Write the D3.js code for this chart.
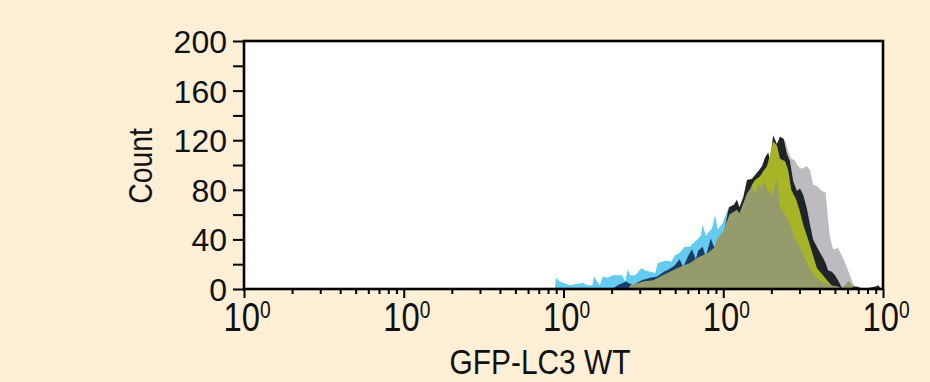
<!DOCTYPE html>
<html>
<head>
<meta charset="utf-8">
<script src="https://cdn.jsdelivr.net/npm/d3@7"></script>
<style>
  html, body { margin: 0; padding: 0; background: #FEEFD6; }
  svg { display: block; }
</style>
</head>
<body>
<svg id="chart" width="930" height="382"></svg>
<script>
// ---- DATA (x = acquisition channel, 1024 channels over 4 log decades; y = count) ----
const xTickLabels = ["10", "10", "10", "10", "10"];
const xTickExp = ["0", "0", "0", "0", "0"];
const yMajorTicks = [0, 40, 80, 120, 160, 200];
const yMinorTicks = [20, 60, 100, 140, 180];
const xTitle = "GFP-LC3 WT";
const yTitle = "Count";

const greySeries = [
  [843,0],[856,118],[867,120],[872,111],[877,105],[882,104],[888,99],[894,97],[902,99],[907,96],
  [912,84],[918,83],[926,79],[932,78],[935,61],[939,42],[944,32],[952,33],[959,26],[968,15],
  [974,7],[979,1],[983,0]
];
const blueSeries = [
  [498,0],[500,9],[506,6],[522,3],[543,5],[550,3],[558,3],[561,10],[570,3],[575,10],[583,9],
  [591,11],[606,11],[611,6],[615,16],[619,11],[627,11],[637,17],[643,15],[651,14],[659,13],
  [663,21],[677,23],[685,22],[690,27],[698,29],[706,34],[714,34],[726,40],[732,43],[735,52],
  [740,43],[750,49],[755,60],[759,48],[767,53],[775,64],[783,62],[794,55],[805,0]
];
const blackSeries = [
  [764,0],[765,35],[777,66],[785,68],[790,72],[794,66],[800,74],[806,88],[814,89],[819,92],
  [824,95],[830,99],[835,106],[840,110],[843,104],[848,124],[854,117],[859,123],[865,121],
  [870,109],[875,103],[880,87],[886,79],[891,81],[896,76],[902,65],[907,52],[912,40],[920,32],
  [928,25],[932,21],[936,15],[942,14],[947,11],[952,7],[957,2],[959,0],[964,3],[969,6],[974,2],
  [982,2],[993,0],[1012,2],[1017,3],[1020,0]
];
const navySeries = [
  [590,0],[599,3],[612,6],[623,3],[637,7],[651,9],[662,10],[673,14],[681,16],[690,19],[698,24],
  [704,18],[712,27],[718,32],[724,24],[728,31],[735,34],[740,26],[748,41],[753,34],[759,36],
  [764,40],[772,45],[777,57],[781,58],[788,0]
];
const yellowSeries = [
  [794,0],[795,55],[808,75],[814,84],[819,88],[827,91],[832,95],[838,99],[843,108],[848,119],
  [854,116],[859,105],[867,103],[872,96],[877,80],[885,72],[891,62],[896,52],[904,40],[912,27],
  [918,17],[928,11],[936,6],[947,0]
];
const oliveSeries = [
  [616,0],[619,3],[640,6],[656,7],[671,11],[687,15],[704,19],[715,21],[726,25],[743,29],[753,33],
  [759,41],[767,46],[778,60],[790,64],[794,61],[800,69],[806,77],[814,83],[819,76],[824,85],
  [830,81],[835,87],[840,77],[843,81],[846,74],[854,89],[859,66],[867,60],[875,52],[883,41],
  [888,36],[896,29],[904,19],[915,10],[926,6],[939,3],[952,2],[959,0],[964,3],[969,6],[974,3],[977,0]
];

// ---- LAYOUT ----
const plot = { left: 244, right: 883, top: 41, bottom: 289 };
const svg = d3.select("#chart");
svg.append("rect").attr("width", 930).attr("height", 382).attr("fill", "#FEEFD6");

const xLog = d3.scaleLog().domain([1, 1e4]).range([plot.left, plot.right]);
const xCh = d3.scaleLinear().domain([0, 1024]).range([plot.left, plot.right]);
const y = d3.scaleLinear().domain([0, 200]).range([plot.bottom, plot.top]);

svg.append("rect")
  .attr("x", plot.left).attr("y", plot.top)
  .attr("width", plot.right - plot.left).attr("height", plot.bottom - plot.top)
  .attr("fill", "#ffffff");

svg.append("clipPath").attr("id", "clip").append("rect")
  .attr("x", plot.left).attr("y", plot.top)
  .attr("width", plot.right - plot.left).attr("height", plot.bottom - plot.top);

const area = d3.area()
  .x(d => xCh(d[0]))
  .y0(y(0))
  .y1(d => y(d[1]))
  .curve(d3.curveLinear);

const layers = [
  { data: greySeries, fill: "#BDBAC0" },
  { data: blueSeries, fill: "#66CBF1" },
  { data: blackSeries, fill: "#1E2427" },
  { data: navySeries, fill: "#1A3F66" },
  { data: yellowSeries, fill: "#A7B426" },
  { data: oliveSeries, fill: "#969B6B" }
];
const g = svg.append("g").attr("clip-path", "url(#clip)");
g.selectAll("path").data(layers).join("path")
  .attr("d", d => area(d.data))
  .attr("fill", d => d.fill);

// ---- FRAME ----
svg.append("rect")
  .attr("x", plot.left).attr("y", plot.top)
  .attr("width", plot.right - plot.left).attr("height", plot.bottom - plot.top)
  .attr("fill", "none").attr("stroke", "#000").attr("stroke-width", 2.6);

// ---- X AXIS ----
const decades = [1, 10, 100, 1000, 10000];
const minor = xLog.ticks().filter(v => !decades.includes(v));
const xMinor = svg.append("g").attr("transform", `translate(0,${plot.bottom})`)
  .call(d3.axisBottom(xLog).tickValues(minor).tickSize(5).tickFormat(""));
const xMajor = svg.append("g").attr("transform", `translate(0,${plot.bottom})`)
  .call(d3.axisBottom(xLog).tickValues(decades).tickSize(9).tickFormat(""));
[xMinor, xMajor].forEach(a => {
  a.select(".domain").remove();
  a.selectAll(".tick line").attr("stroke", "#000").attr("stroke-width", 2);
});

const narrow = "'Liberation Sans Narrow', 'Arial Narrow', 'Liberation Sans', Arial, sans-serif";
const xl = svg.append("g").selectAll("text").data(decades).join("text")
  .attr("transform", d => `translate(${xLog(d) + 3},331) scale(0.8,1)`)
  .attr("text-anchor", "middle")
  .attr("font-family", narrow)
  .attr("font-size", 41)
  .attr("fill", "#111");
xl.append("tspan").text((d, i) => xTickLabels[i]);
xl.append("tspan").attr("dy", -13).attr("font-size", 24).text((d, i) => xTickExp[i]);

// ---- Y AXIS ----
const yMajor = svg.append("g").attr("transform", `translate(${plot.left},0)`)
  .call(d3.axisLeft(y).tickValues(yMajorTicks).tickSize(11).tickPadding(6));
const yMin = svg.append("g").attr("transform", `translate(${plot.left},0)`)
  .call(d3.axisLeft(y).tickValues(yMinorTicks).tickSize(11).tickFormat(""));
[yMajor, yMin].forEach(a => {
  a.select(".domain").remove();
  a.selectAll(".tick line").attr("stroke", "#000").attr("stroke-width", 2);
});
yMajor.selectAll(".tick text")
  .attr("font-family", "'Liberation Sans', Arial, sans-serif")
  .attr("font-size", 32)
  .attr("fill", "#111")
  .attr("dy", "0.36em");

// ---- TITLES ----
svg.append("text")
  .attr("transform", "translate(540,374) scale(0.83,1)")
  .attr("text-anchor", "middle")
  .attr("font-family", narrow)
  .attr("font-size", 36)
  .attr("fill", "#111")
  .text(xTitle);

svg.append("text")
  .attr("transform", "translate(152,166) rotate(-90) scale(0.86,1)")
  .attr("text-anchor", "middle")
  .attr("font-family", narrow)
  .attr("font-size", 33)
  .attr("fill", "#111")
  .text(yTitle);
</script>
</body>
</html>
